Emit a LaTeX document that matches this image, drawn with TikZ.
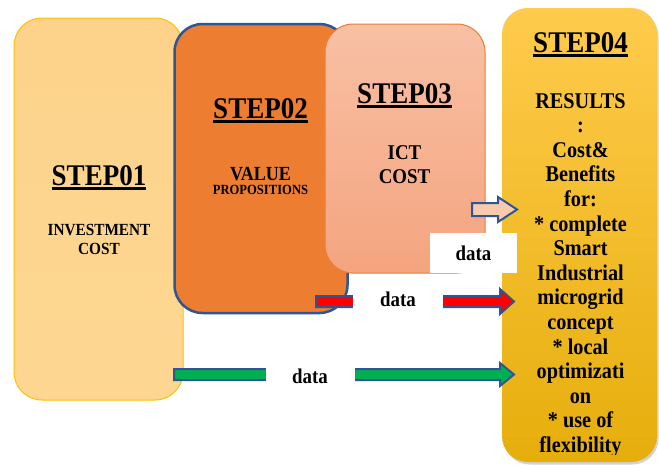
\documentclass[tikz,border=0pt]{standalone}
\usepackage{fontspec}
\setmainfont{Liberation Serif}[FakeStretch=0.9]
\usetikzlibrary{shadows,calc}
\definecolor{boxA}{HTML}{FDD792}
\definecolor{boxAline}{HTML}{FFC000}
\definecolor{boxB}{HTML}{ED7D31}
\definecolor{navy}{HTML}{2F5597}
\definecolor{boxCtop}{HTML}{F8C0A4}
\definecolor{boxCbot}{HTML}{F4A47F}
\definecolor{boxDtop}{HTML}{FFCB4C}
\definecolor{boxDmid}{HTML}{FFC20A}
\definecolor{boxDbot}{HTML}{E6AE0C}
\definecolor{peach}{HTML}{F8CBAD}
\definecolor{grn}{HTML}{00B050}
\definecolor{rd}{HTML}{FF0000}
\newcommand\blockarrow[6]{%
  \draw[#1] ($(#2)+(0,-#4)$) -- ($(#3)+(-#6,-#4)$) -- ($(#3)+(-#6,-#5)$) -- (#3)
    -- ($(#3)+(-#6,#5)$) -- ($(#3)+(-#6,#4)$) -- ($(#2)+(0,#4)$) -- cycle;}
\begin{document}
\begin{tikzpicture}[x=1pt,y=-1pt,
  stepbox/.style={rectangle,inner sep=0pt,outer sep=0pt,rounded corners=28pt},
  title/.style={anchor=base,inner sep=0pt,font=\fontsize{30}{32}\selectfont\bfseries},
  body/.style={anchor=base,inner sep=0pt,font=\fontsize{#1}{#1}\selectfont\bfseries},
  body/.default=20,
  uline/.style={line width=2.6pt},
  arr/.style={draw=navy,line width=2pt,line join=miter},
  datalabel/.style={fill=white,inner sep=0pt,font=\fontsize{21}{21}\selectfont\bfseries}]
\useasboundingbox (0,0) rectangle (659,467);
\fill[white] (0,0) rectangle (659,467);
% boxes
\node[stepbox,draw=boxAline,line width=1pt,top color=boxA!95!orange,bottom color=boxA,
  minimum width=169pt,minimum height=382pt] (s1) at (98.5,209) {};
\node[stepbox,draw=navy,line width=2.5pt,fill=boxB,
  minimum width=173pt,minimum height=289pt] (s2) at (261,168.5) {};
\node[stepbox,draw=boxB,line width=1pt,top color=boxCtop,bottom color=boxCbot,
  minimum width=160pt,minimum height=249pt] (s3) at (405,148.5) {};
\node[stepbox,rounded corners=26pt,top color=boxDtop,middle color=boxDmid,bottom color=boxDbot,
  drop shadow={opacity=0.35,shadow xshift=1.5pt,shadow yshift=-2.5pt},
  minimum width=155pt,minimum height=454pt] (s4) at (579.5,235) {};
% titles
\node[title] (t1) at (99,185) {STEP01};
\node[title] (t2) at (260.5,118) {STEP02};
\node[title] (t3) at (404.5,103) {STEP03};
\node[title] (t4) at (580.5,52) {STEP04};
\foreach \n in {t1,t2,t3,t4}
  \draw[uline] ($(\n.base west)+(0,3.5)$) -- ($(\n.base east)+(0,3.5)$);
% step texts
\node[body=17] (a1) at (99,235) {INVESTMENT};
\node[body=17] (a2) at (99,254) {COST};
\node[body=20] (b1) at (260.5,180) {VALUE};
\node[body=14] (b2) at (260.5,194) {PROPOSITIONS};
\node[body=21] (c1) at (404.5,159) {ICT};
\node[body=21] (c2) at (404.5,183) {COST};
\begin{scope}
  \clip (500,0) rectangle (659,454.5);
  \foreach \t [count=\i] in {RESULTS,:,Cost\&,Benefits,for:,* complete,Smart,Industrial,microgrid,concept,* local,optimizati,on,* use of,flexibility}
    \node[body=22.5] (d\i) at (580.5,{108+24.6*(\i-1)}) {\t};
\end{scope}
% arrows
\coordinate (h0) at (472,209.5);
\coordinate (h1) at (517,209.5);
\coordinate (r0) at (316,301.5);
\coordinate (r1) at (514,301.5);
\coordinate (g0) at (174,374.5);
\coordinate (g1) at (514,374.5);
\blockarrow{arr,fill=peach}{h0}{h1}{6.5}{12.5}{19}
\blockarrow{arr,fill=rd}{r0}{r1}{5.5}{12.5}{14}
\blockarrow{arr,fill=grn}{g0}{g1}{5.5}{11.5}{14}
% labels
\node[datalabel,minimum width=87pt,minimum height=40pt] (l1) at (473.5,253) {\raisebox{-5pt}{data}\hspace{7pt}};
\node[datalabel,minimum width=90pt,minimum height=24pt] (l2) at (398,299) {data\hspace{5pt}};
\node[datalabel,minimum width=89pt,minimum height=24pt] (l3) at (310,376) {data\hspace{7pt}};
\end{tikzpicture}
\end{document}
